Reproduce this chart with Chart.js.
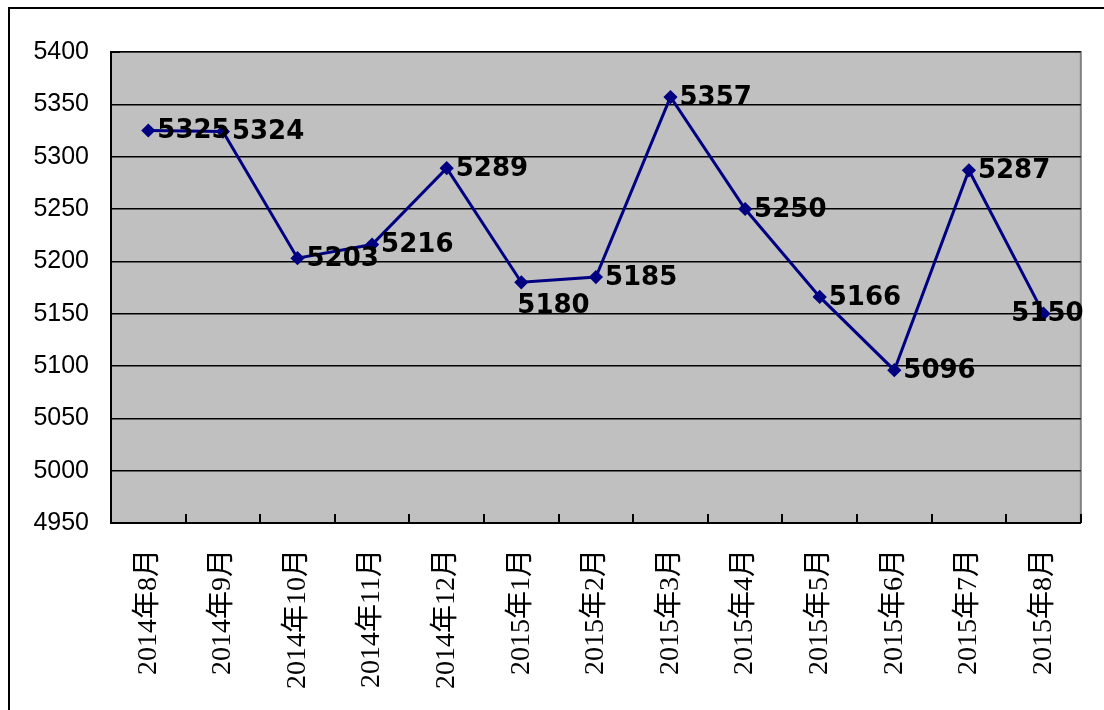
<!DOCTYPE html>
<html>
<head>
    <meta charset="utf-8">
    <title>月度数据</title>
    <script src="https://cdn.jsdelivr.net/npm/chart.js"></script>
    <style>
        html, body { margin: 0; padding: 0; background: #fff; }
        #frame { position: absolute; left: 8px; top: 7px; width: 1096px; height: 703px;
                 border-top: 2px solid #000; border-left: 2px solid #000; }
        #wrap { position: absolute; left: 0; top: 0; width: 1104px; height: 710px; }
    </style>
</head>
<body>
    <div id="frame"></div>
    <div id="wrap"><canvas id="lineChart" width="1104" height="710"></canvas></div>

    <script>
        // 数据
        const months = ['2014年8月', '2014年9月', '2014年10月', '2014年11月', '2014年12月',
                        '2015年1月', '2015年2月', '2015年3月', '2015年4月', '2015年5月',
                        '2015年6月', '2015年7月', '2015年8月'];
        const values = [5325, 5324, 5203, 5216, 5289, 5180, 5185, 5357, 5250, 5166, 5096, 5287, 5150];
        const yMin = 4950;
        const yMax = 5400;
        const yStep = 50;
        // 数据标签放置方式
        const labelPlace = ['right', 'right', 'right', 'right', 'right', 'below', 'right',
                            'right', 'right', 'right', 'right', 'right', 'center'];

        // 灰色绘图区 + 上/右灰色边框
        const plotArea = {
            id: 'plotArea',
            beforeDraw(chart) {
                const { ctx, chartArea: a } = chart;
                ctx.save();
                ctx.fillStyle = '#c0c0c0';
                ctx.fillRect(a.left, a.top, a.right - a.left, a.bottom - a.top);
                ctx.strokeStyle = '#808080';
                ctx.lineWidth = 2;
                ctx.beginPath();
                ctx.moveTo(a.left, a.top);
                ctx.lineTo(a.right, a.top);
                ctx.lineTo(a.right, a.bottom);
                ctx.stroke();
                ctx.restore();
            },
            afterDraw(chart) {
                // x 轴内侧刻度
                const { ctx, chartArea: a, scales } = chart;
                const x = scales.x;
                const n = months.length;
                const w = (x.right - x.left) / n;
                ctx.save();
                ctx.strokeStyle = '#000';
                ctx.lineWidth = 2;
                ctx.beginPath();
                for (let i = 1; i <= n; i++) {
                    const px = Math.round(x.left + i * w);
                    ctx.moveTo(px, a.bottom);
                    ctx.lineTo(px, a.bottom - 9);
                }
                ctx.moveTo(a.left, a.top);
                ctx.lineTo(a.left + 9, a.top);
                ctx.stroke();
                ctx.restore();
            }
        };

        // 数据标签
        const dataLabels = {
            id: 'dataLabels',
            afterDatasetsDraw(chart) {
                const { ctx } = chart;
                const meta = chart.getDatasetMeta(0);
                ctx.save();
                ctx.font = 'bold 26px "DejaVu Sans", sans-serif';
                ctx.fillStyle = '#000';
                meta.data.forEach((pt, i) => {
                    const txt = String(values[i]);
                    const place = labelPlace[i];
                    if (place === 'below') {
                        ctx.textAlign = 'left';
                        ctx.textBaseline = 'top';
                        ctx.fillText(txt, pt.x - 4, pt.y + 11);
                    } else if (place === 'center') {
                        ctx.textAlign = 'center';
                        ctx.textBaseline = 'middle';
                        ctx.fillText(txt, pt.x + 4, pt.y + 1);
                    } else {
                        ctx.textAlign = 'left';
                        ctx.textBaseline = 'middle';
                        ctx.fillText(txt, pt.x + 9, pt.y + 1);
                    }
                });
                ctx.restore();
            }
        };

        new Chart(document.getElementById('lineChart'), {
            type: 'line',
            data: {
                labels: months,
                datasets: [{
                    data: values,
                    borderColor: '#000080',
                    backgroundColor: '#000080',
                    borderWidth: 3,
                    pointStyle: 'rectRot',
                    pointRadius: 5,
                    pointHoverRadius: 5,
                    tension: 0,
                    clip: false
                }]
            },
            options: {
                responsive: false,
                animation: false,
                layout: { padding: { left: 31, top: 52, right: 23, bottom: 0 } },
                plugins: {
                    legend: { display: false },
                    tooltip: { enabled: false }
                },
                scales: {
                    x: {
                        offset: true,
                        afterFit(scale) { scale.height = 187; },
                        grid: { display: false, drawTicks: false },
                        border: { display: true, color: '#000', width: 2 },
                        ticks: {
                            minRotation: 90,
                            maxRotation: 90,
                            autoSkip: false,
                            padding: 26,
                            color: '#000',
                            font: { family: '"Liberation Serif", "Noto Sans CJK SC", serif', size: 28 }
                        }
                    },
                    y: {
                        min: yMin,
                        max: yMax,
                        afterFit(scale) { scale.width = 80; },
                        grid: { color: '#000', lineWidth: 1.5, drawTicks: false },
                        border: { display: true, color: '#000', width: 2 },
                        ticks: {
                            stepSize: yStep,
                            padding: 22,
                            color: '#000',
                            callback: (v) => String(v),
                            font: { family: '"Liberation Sans", Arial, sans-serif', size: 25 }
                        }
                    }
                }
            },
            plugins: [plotArea, dataLabels]
        });
    </script>
</body>
</html>
